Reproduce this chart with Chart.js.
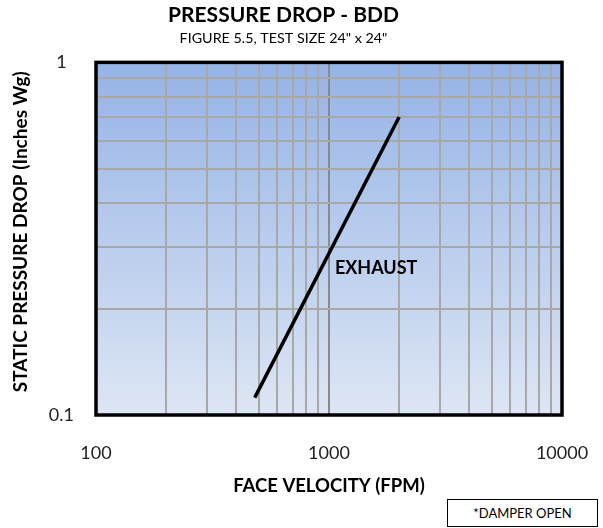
<!DOCTYPE html>
<html>
<head>
<meta charset="utf-8">
<script src="https://cdn.jsdelivr.net/npm/chart.js@4.4.1/dist/chart.umd.min.js"></script>
<style>
  html, body { margin: 0; padding: 0; background: #fff; }
  #wrap { position: relative; width: 603px; height: 528px; }
  #note {
    position: absolute; left: 447px; top: 499px; width: 151px; height: 28px;
    box-sizing: border-box; border: 1px solid #000; background: #fff;
    font: 13px Lato, sans-serif; color: #000;
    display: flex; align-items: center; justify-content: center;
  }
</style>
</head>
<body>
<div id="wrap">
  <canvas id="chart" width="603" height="528"></canvas>
  <div id="note">*DAMPER OPEN</div>
</div>
<script>
// data
const velocity = [480, 2000];          // FPM
const pressureDrop = [0.112, 0.70];    // inches Wg
const seriesLabel = 'EXHAUST';
const labelAnchor = { x: 1060, y: 0.26 };

// log grid ticks
const xTicks = [100, 200, 300, 400, 500, 600, 700, 800, 900,
                1000, 2000, 3000, 4000, 5000, 6000, 7000, 8000, 9000, 10000];
const yTicks = [0.1, 0.2, 0.3, 0.4, 0.5, 0.6, 0.7, 0.8, 0.9, 1];
const xLabeled = [100, 1000, 10000];
const yLabeled = [0.1, 1];

Chart.defaults.font.family = 'Lato';
Chart.defaults.color = '#000';

const plotFrame = {
    id: 'plotFrame',
    beforeDraw(chart) {
        const { ctx, chartArea: a } = chart;
        const g = ctx.createLinearGradient(0, a.top, 0, a.bottom);
        g.addColorStop(0, '#95b3e6');
        g.addColorStop(1, '#dde6f4');
        ctx.save();
        ctx.fillStyle = g;
        ctx.fillRect(a.left, a.top, a.width, a.height);
        ctx.restore();
    },
    afterDraw(chart) {
        const { ctx, chartArea: a, scales } = chart;
        ctx.save();
        ctx.lineWidth = 3.5;
        ctx.strokeStyle = '#000';
        ctx.strokeRect(a.left, a.top, a.width, a.height);
        // series label
        ctx.font = 'bold 18px Lato';
        ctx.fillStyle = '#000';
        ctx.textBaseline = 'middle';
        ctx.fillText(seriesLabel, scales.x.getPixelForValue(labelAnchor.x), scales.y.getPixelForValue(labelAnchor.y));
        ctx.restore();
    }
};

const gridColor = ctx => ctx.tick && ctx.tick.value === 1000 ? '#8a8a8a' : '#a8a8a8';

// let layout padding alone decide the plot edges
const noEdgePadding = s => {
    s.paddingLeft = 0; s.paddingRight = 0;
    s.paddingTop = 0; s.paddingBottom = 0;
};

new Chart(document.getElementById('chart'), {
    type: 'line',
    data: {
        datasets: [{
            label: seriesLabel,
            data: velocity.map((v, i) => ({ x: v, y: pressureDrop[i] })),
            borderColor: '#000',
            borderWidth: 3.5,
            pointRadius: 0,
            tension: 0
        }]
    },
    options: {
        responsive: false,
        animation: false,
        layout: { padding: { left: 5, right: 41, top: 0, bottom: 30 } },
        plugins: {
            legend: { display: false },
            tooltip: { enabled: false },
            title: {
                display: true,
                text: 'PRESSURE DROP - BDD',
                font: { size: 21, weight: 'bold' },
                padding: { top: 3, bottom: 1 }
            },
            subtitle: {
                display: true,
                text: 'FIGURE 5.5, TEST SIZE 24" x 24"',
                font: { size: 14.3 },
                color: '#000',
                padding: { top: 1, bottom: 15 }
            }
        },
        scales: {
            x: {
                type: 'logarithmic',
                min: 100,
                max: 10000,
                afterBuildTicks: s => { s.ticks = xTicks.map(v => ({ value: v })); },
                afterFit: s => { s.height = 83; noEdgePadding(s); },
                ticks: {
                    autoSkip: false,
                    maxRotation: 0,
                    padding: 27,
                    font: { size: 18 },
                    color: '#222',
                    callback: v => xLabeled.includes(v) ? String(v) : ''
                },
                grid: { color: gridColor, lineWidth: 2, drawTicks: false },
                border: { display: false },
                title: {
                    display: true,
                    text: 'FACE VELOCITY (FPM)',
                    font: { size: 18.5, weight: 'bold' },
                    padding: { top: 0, bottom: 1 }
                }
            },
            y: {
                type: 'logarithmic',
                min: 0.1,
                max: 1,
                afterBuildTicks: s => { s.ticks = yTicks.map(v => ({ value: v })); },
                afterFit: s => { s.width = 91; noEdgePadding(s); },
                ticks: {
                    autoSkip: false,
                    crossAlign: 'center',
                    padding: 22,
                    font: { size: 18 },
                    color: '#222',
                    callback: v => yLabeled.includes(v) ? String(v) : ''
                },
                grid: { color: gridColor, lineWidth: 2, drawTicks: false },
                border: { display: false },
                title: {
                    display: true,
                    text: '   STATIC PRESSURE DROP (Inches Wg)',
                    font: { size: 19, weight: 'bold' },
                    padding: { top: 4, bottom: 0 }
                }
            }
        }
    },
    plugins: [plotFrame]
});
</script>
</body>
</html>
